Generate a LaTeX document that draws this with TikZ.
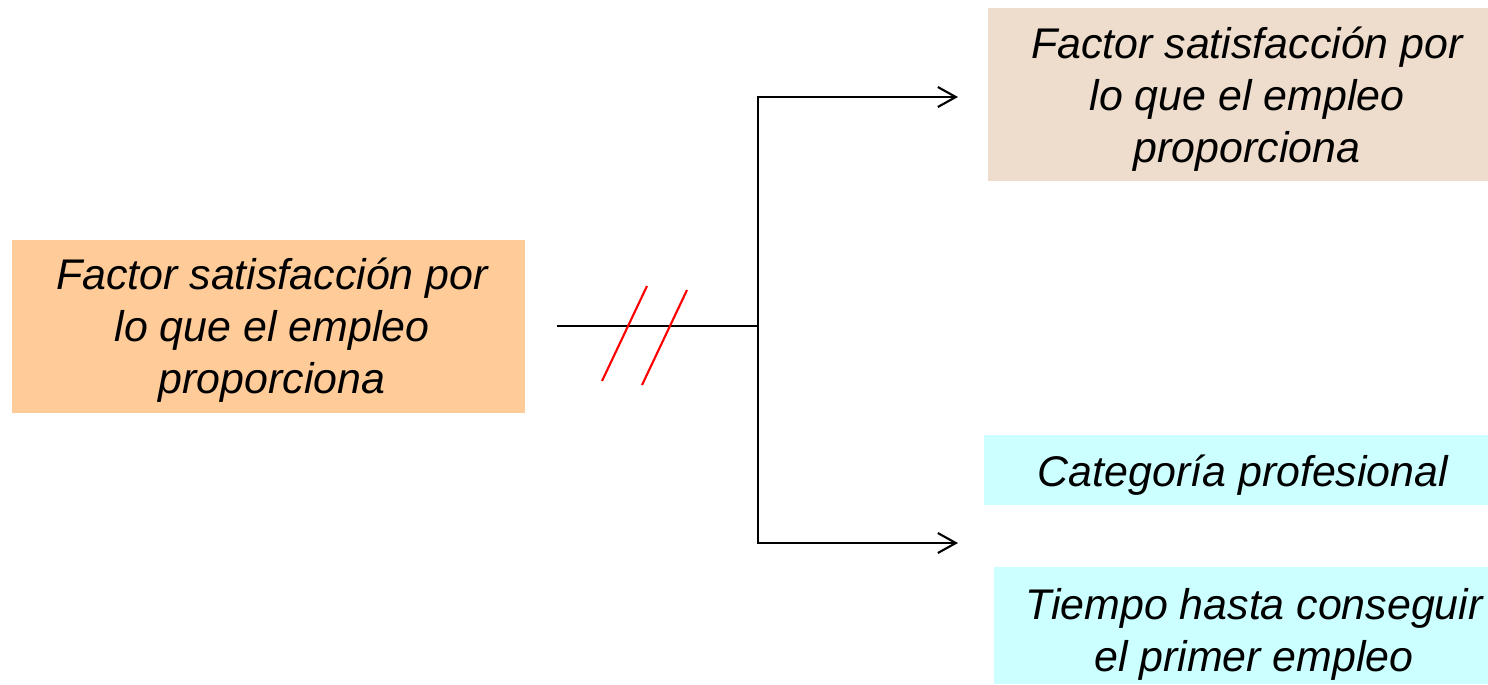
\documentclass[tikz,border=0pt]{standalone}
\usepackage{fontspec}
\setmainfont{Liberation Sans}
\usetikzlibrary{arrows.meta}
\definecolor{peach}{HTML}{FFCC99}
\definecolor{sand}{HTML}{EEDDCC}
\definecolor{paleblue}{HTML}{CCFFFF}
\tikzset{
    factortext/.style={inner sep=0pt, align=center,
        font=\fontsize{12.2}{14.8}\selectfont\itshape},
    link/.style={line width=0.6pt},
    tip/.style={link, -{Straight Barb[length=1.8mm,width=2mm]}}
}
\begin{document}
\begin{tikzpicture}[x=0.01cm, y=-0.01cm]
    \useasboundingbox (0,0) rectangle (1488,684);

    % boxes
    \fill[peach] (12,240) rectangle (525,413);
    \fill[sand] (988,8) rectangle (1488,181);
    \fill[paleblue] (984,435) rectangle (1488,505);
    \fill[paleblue] (994,567) rectangle (1488,684);

    \node[factortext] (origen) at (272,330.5)
        {Factor satisfacción por\\lo que el empleo\\proporciona};
    \node[factortext] (destino) at (1247,99.5)
        {Factor satisfacción por\\lo que el empleo\\proporciona};
    \node[factortext] (categoria) at (1243,475) {Categoría profesional};
    \node[factortext] (tiempo) at (1254,634)
        {Tiempo hasta conseguir\\el primer empleo};

    % connectors
    \coordinate (inicio) at (557,326);
    \coordinate (cruce) at (758,326);
    \coordinate (arriba) at (958,97);
    \coordinate (abajo) at (958,543);
    \draw[link] (inicio) -- (cruce);
    \draw[tip] (cruce) |- (arriba);
    \draw[tip] (cruce) |- (abajo);

    \draw[red, link] (602,381) -- (647,286); % double slash
    \draw[red, link] (642,385) -- (687,290);
\end{tikzpicture}
\end{document}
